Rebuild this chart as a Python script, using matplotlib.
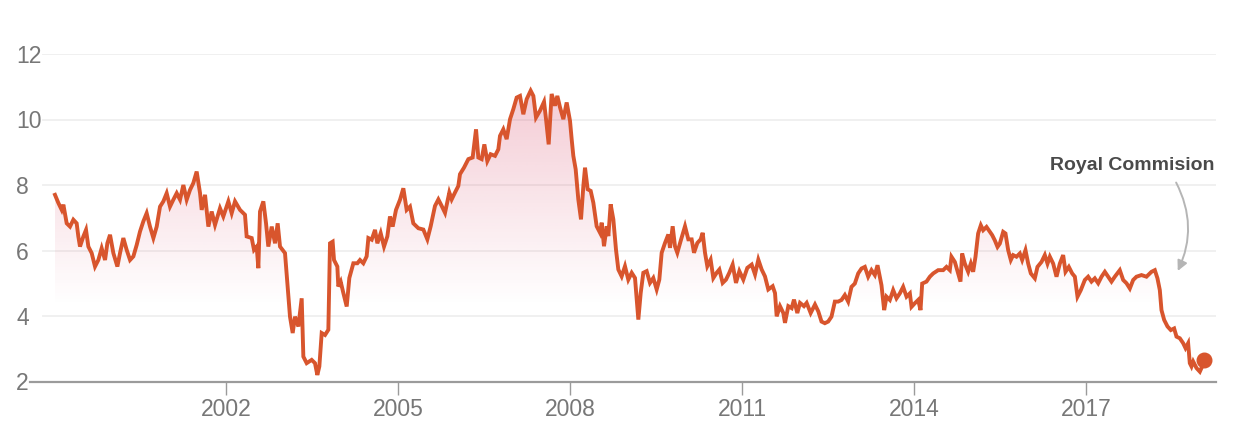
import numpy as np
import matplotlib
matplotlib.use("Agg")
import matplotlib.pyplot as plt
from matplotlib.patches import FancyArrowPatch

plt.rcParams['font.family'] = ['Liberation Sans', 'DejaVu Sans']

# ---- data (decimal year, price) ----
dates = [
    1999.017, 1999.076, 1999.134, 1999.163, 1999.221, 1999.279, 1999.337, 1999.395, 1999.424, 1999.453,
    1999.512, 1999.558, 1999.599, 1999.657, 1999.715, 1999.773, 1999.831, 1999.890, 1999.930, 1999.977,
    2000.035, 2000.105, 2000.151, 2000.209, 2000.267, 2000.326, 2000.384, 2000.442, 2000.500, 2000.558,
    2000.616, 2000.674, 2000.733, 2000.791, 2000.849, 2000.907, 2000.965, 2001.023, 2001.081, 2001.140,
    2001.198, 2001.256, 2001.314, 2001.372, 2001.430, 2001.488, 2001.547, 2001.576, 2001.634, 2001.692,
    2001.750, 2001.808, 2001.895, 2001.953, 2002.041, 2002.099, 2002.157, 2002.244, 2002.331, 2002.360,
    2002.448, 2002.488, 2002.535, 2002.564, 2002.593, 2002.651, 2002.698, 2002.738, 2002.797, 2002.855,
    2002.901, 2002.942, 2003.029, 2003.070, 2003.116, 2003.163, 2003.203, 2003.262, 2003.320, 2003.349,
    2003.407, 2003.494, 2003.552, 2003.593, 2003.628, 2003.669, 2003.727, 2003.785, 2003.814, 2003.860,
    2003.884, 2003.942, 2003.959, 2004.000, 2004.047, 2004.105, 2004.151, 2004.221, 2004.291, 2004.337,
    2004.395, 2004.453, 2004.483, 2004.541, 2004.599, 2004.640, 2004.698, 2004.756, 2004.814, 2004.860,
    2004.907, 2004.965, 2005.035, 2005.093, 2005.151, 2005.209, 2005.267, 2005.355,
    2005.442, 2005.512, 2005.570, 2005.645, 2005.704, 2005.762, 2005.820, 2005.895, 2005.936, 2005.994,
    2006.052, 2006.081, 2006.151, 2006.227, 2006.302, 2006.361, 2006.401, 2006.459, 2006.506, 2006.558,
    2006.616, 2006.692, 2006.750, 2006.779, 2006.837, 2006.895, 2006.954, 2007.012, 2007.070, 2007.128,
    2007.186, 2007.244, 2007.314, 2007.361, 2007.407, 2007.477, 2007.547, 2007.582, 2007.628, 2007.680,
    2007.738, 2007.779, 2007.826, 2007.884, 2007.942, 2008.000, 2008.029, 2008.058, 2008.099, 2008.145,
    2008.192, 2008.233, 2008.262, 2008.308, 2008.361, 2008.407, 2008.465, 2008.524, 2008.553, 2008.593,
    2008.640, 2008.669, 2008.709, 2008.756, 2008.802, 2008.843, 2008.901, 2008.959, 2009.017, 2009.076,
    2009.134, 2009.192, 2009.233, 2009.279, 2009.337, 2009.395, 2009.453, 2009.512, 2009.558, 2009.599,
    2009.657, 2009.715, 2009.744, 2009.791, 2009.831, 2009.872, 2009.930, 2010.006, 2010.064, 2010.122,
    2010.163, 2010.221, 2010.279, 2010.314, 2010.355, 2010.395, 2010.453, 2010.500, 2010.558, 2010.605,
    2010.663, 2010.721, 2010.779, 2010.837, 2010.895, 2010.954, 2011.023, 2011.093, 2011.169, 2011.227,
    2011.285, 2011.343, 2011.401, 2011.459, 2011.535, 2011.576, 2011.605, 2011.663, 2011.721, 2011.750,
    2011.808, 2011.866, 2011.907, 2011.965, 2012.012, 2012.081, 2012.128, 2012.198, 2012.273, 2012.331,
    2012.387, 2012.445, 2012.503, 2012.561, 2012.620, 2012.678, 2012.736, 2012.794, 2012.852, 2012.910,
    2012.968, 2013.027, 2013.085, 2013.143, 2013.201, 2013.259, 2013.317, 2013.364, 2013.404, 2013.433,
    2013.480, 2013.521, 2013.579, 2013.637, 2013.695, 2013.753, 2013.811, 2013.870, 2013.928, 2013.957,
    2014.015, 2014.073, 2014.114, 2014.143, 2014.218, 2014.277, 2014.335, 2014.422, 2014.509, 2014.567,
    2014.625, 2014.654, 2014.713, 2014.771, 2014.811, 2014.840, 2014.887, 2014.945, 2014.991, 2015.032,
    2015.073, 2015.119, 2015.166, 2015.207, 2015.265, 2015.323, 2015.364, 2015.410, 2015.457, 2015.497,
    2015.556, 2015.596, 2015.643, 2015.689, 2015.730, 2015.788, 2015.846, 2015.887, 2015.945, 2015.992,
    2016.038, 2016.108, 2016.154, 2016.224, 2016.282, 2016.329, 2016.370, 2016.428, 2016.486, 2016.544,
    2016.602, 2016.643, 2016.701, 2016.759, 2016.806, 2016.852, 2016.910, 2016.980, 2017.038, 2017.096,
    2017.154, 2017.213, 2017.271, 2017.329, 2017.387, 2017.445, 2017.503, 2017.590, 2017.649, 2017.707,
    2017.765, 2017.823, 2017.881, 2017.968, 2018.055, 2018.143, 2018.201, 2018.247, 2018.288, 2018.317,
    2018.364, 2018.422, 2018.480, 2018.538, 2018.579, 2018.637, 2018.695, 2018.736, 2018.782, 2018.811,
    2018.840, 2018.870, 2018.928, 2018.986, 2019.027, 2019.061,
]
prices = [
    7.70, 7.45, 7.24, 7.40, 6.83, 6.73, 6.94, 6.83, 6.43, 6.12,
    6.43, 6.63, 6.12, 5.92, 5.51, 5.71, 6.07, 5.71, 6.22, 6.48,
    5.92, 5.51, 5.92, 6.38, 6.02, 5.71, 5.82, 6.17, 6.58, 6.89,
    7.14, 6.73, 6.38, 6.73, 7.34, 7.50, 7.75, 7.34, 7.55, 7.75,
    7.55, 8.00, 7.55, 7.85, 8.06, 8.41, 7.75, 7.24, 7.70, 6.73,
    7.19, 6.78, 7.29, 7.04, 7.50, 7.14, 7.50, 7.24, 7.09, 6.43,
    6.38, 6.02, 6.12, 5.46, 7.19, 7.50, 6.83, 6.12, 6.73, 6.22,
    6.83, 6.12, 5.92, 5.00, 3.98, 3.48, 3.98, 3.68, 4.54, 2.76,
    2.56, 2.66, 2.56, 2.20, 2.46, 3.48, 3.42, 3.58, 6.22, 6.27,
    5.71, 5.51, 4.90, 5.05, 4.70, 4.29, 5.16, 5.61, 5.61, 5.71,
    5.61, 5.82, 6.38, 6.33, 6.63, 6.22, 6.53, 6.12, 6.43, 7.04,
    6.73, 7.24, 7.55, 7.90, 7.24, 7.34, 6.83, 6.68,
    6.64, 6.34, 6.74, 7.36, 7.56, 7.36, 7.15, 7.77, 7.56, 7.77,
    7.97, 8.33, 8.53, 8.79, 8.84, 9.70, 8.84, 8.79, 9.24, 8.73,
    8.94, 8.89, 9.09, 9.50, 9.70, 9.40, 10.01, 10.32, 10.67, 10.72,
    10.16, 10.62, 10.88, 10.72, 10.06, 10.27, 10.54, 10.01, 9.24, 10.78,
    10.42, 10.72, 10.37, 10.01, 10.52, 9.96, 9.40, 8.89, 8.48, 7.56,
    6.95, 7.97, 8.53, 7.87, 7.82, 7.46, 6.74, 6.54, 6.85, 6.13,
    6.74, 6.44, 7.41, 6.95, 6.03, 5.42, 5.21, 5.52, 5.11, 5.32,
    5.16, 3.89, 4.70, 5.32, 5.37, 5.01, 5.16, 4.81, 5.11, 5.93,
    6.23, 6.49, 6.08, 6.74, 6.13, 5.93, 6.29, 6.74, 6.34, 6.34,
    5.93, 6.23, 6.34, 6.54, 5.93, 5.52, 5.72, 5.16, 5.32, 5.42,
    5.01, 5.11, 5.32, 5.57, 5.01, 5.37, 5.11, 5.47, 5.57, 5.27,
    5.72, 5.42, 5.21, 4.81, 4.91, 4.70, 3.99, 4.30, 4.09, 3.79,
    4.30, 4.24, 4.50, 4.09, 4.40, 4.30, 4.40, 4.09, 4.35, 4.14,
    3.83, 3.78, 3.83, 3.98, 4.44, 4.44, 4.49, 4.64, 4.44, 4.89,
    4.99, 5.30, 5.45, 5.50, 5.20, 5.40, 5.25, 5.55, 5.20, 4.94,
    4.18, 4.59, 4.49, 4.79, 4.54, 4.69, 4.89, 4.59, 4.69, 4.28,
    4.39, 4.49, 4.18, 4.99, 5.05, 5.20, 5.30, 5.40, 5.40, 5.50,
    5.40, 5.81, 5.65, 5.30, 5.05, 5.91, 5.60, 5.35, 5.60, 5.35,
    5.81, 6.52, 6.77, 6.62, 6.72, 6.57, 6.47, 6.31, 6.11, 6.21,
    6.57, 6.52, 6.01, 5.71, 5.86, 5.81, 5.91, 5.71, 6.01, 5.60,
    5.30, 5.15, 5.50, 5.65, 5.86, 5.60, 5.81, 5.60, 5.20, 5.60,
    5.86, 5.35, 5.50, 5.30, 5.20, 4.59, 4.79, 5.10, 5.20, 5.05,
    5.15, 5.00, 5.20, 5.35, 5.20, 5.05, 5.20, 5.40, 5.10, 5.00,
    4.84, 5.10, 5.20, 5.25, 5.20, 5.35, 5.40, 5.15, 4.79, 4.18,
    3.88, 3.68, 3.57, 3.62, 3.37, 3.32, 3.17, 3.02, 3.17, 2.56,
    2.46, 2.61, 2.41, 2.30, 2.46, 2.66,
]
year_ticks = [2002, 2005, 2008, 2011, 2014, 2017]
y_ticks = [2, 4, 6, 8, 10, 12]
annotation_text = "Royal Commision"

LINE = '#d8552d'
W, H = 1234, 438
fig = plt.figure(figsize=(W / 100, H / 100), dpi=100)
ax_left, ax_right = 30 / W, 1216 / W
ax_bottom, ax_top = (H - 381.5) / H, (H - 54) / H
ax = fig.add_axes([ax_left, ax_bottom, ax_right - ax_left, ax_top - ax_bottom])

x0, x1 = 1998.581, 2019.268
ax.set_xlim(x0, x1)
ax.set_ylim(2, 12)

# gridlines (start slightly right of axes edge)
gx0 = (43 - 30) / (1216 - 30)
for yv in y_ticks[1:]:
    ax.axhline(yv, xmin=gx0, xmax=1, color='#efefef', lw=1.3, zorder=0)

# gradient fill under line
poly = ax.fill_between(dates, prices, 2, color='none', lw=0)
ny = 300
vals = np.linspace(12, 2, ny)
alpha = np.clip((vals - 4.3) / (11.0 - 4.3), 0, 1) * 0.27
img = np.zeros((ny, 2, 4))
img[..., 0] = 215 / 255
img[..., 1] = 60 / 255
img[..., 2] = 95 / 255
img[..., 3] = alpha[:, None]
im = ax.imshow(img, extent=[dates[0], dates[-1], 2, 12], aspect='auto', origin='upper',
               zorder=1, interpolation='bilinear')
im.set_clip_path(poly.get_paths()[0], transform=ax.transData)

ax.plot(dates, prices, color=LINE, lw=2.8, zorder=3, solid_joinstyle='miter')
ax.plot([dates[-1]], [prices[-1]], 'o', color=LINE, ms=10.5, zorder=4, clip_on=False)

# annotation
ax.text(2019.25, 8.61, annotation_text, ha='right', va='center', fontsize=14,
        fontweight='bold', color='#4a4a4a')
arr = FancyArrowPatch((2018.55, 8.15), (2018.58, 5.30), connectionstyle='arc3,rad=-0.26',
                      arrowstyle='-|>,head_length=6,head_width=3', color='#b5b5b5', lw=1.4,
                      mutation_scale=1)
ax.add_patch(arr)

# axes styling
for s in ['top', 'right', 'left']:
    ax.spines[s].set_visible(False)
ax.spines['bottom'].set_color('#9b9b9b')
ax.spines['bottom'].set_linewidth(1.6)
ax.set_xticks(year_ticks)
ax.set_xticklabels([str(y) for y in year_ticks])
ax.set_yticks(y_ticks)
ax.set_yticklabels([str(v) for v in y_ticks])
ax.tick_params(axis='x', length=9, width=1, color='#9b9b9b', labelcolor='#777777',
               labelsize=16.5, pad=3)
ax.tick_params(axis='y', length=0, labelcolor='#777777', labelsize=16.5, pad=10)
for lab in ax.get_yticklabels():
    lab.set_horizontalalignment('left')

fig.savefig('out.png', dpi=100, facecolor='white')
